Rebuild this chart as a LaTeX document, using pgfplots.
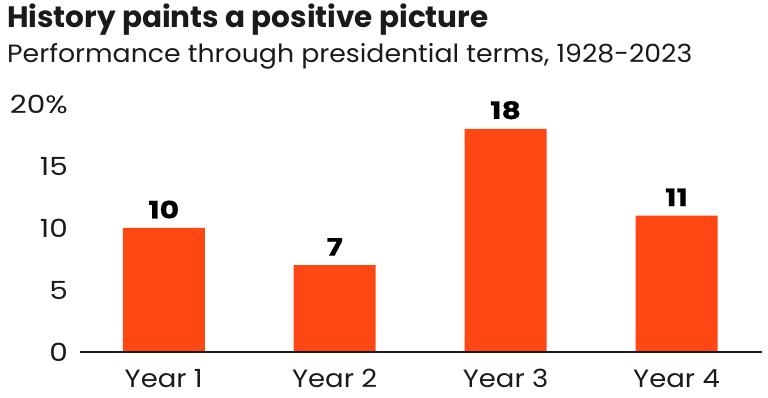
\documentclass[border=0pt]{standalone}
\usepackage{fontspec}
\setmainfont{Poppins}
\newfontfamily\titlefont{Poppins}
\newfontfamily\subfont{Poppins}[FakeStretch=1.07]
\newfontfamily\catfont{Poppins}[FakeStretch=1.10]
\newfontfamily\tickfont{Poppins}[FakeStretch=1.18]
\newfontfamily\lblfont{Poppins}[FakeStretch=1.25,FakeBold=0.6]
\usepackage{pgfplots}
\pgfplotsset{compat=1.18}
\definecolor{barorange}{HTML}{FF4713}
\definecolor{txt}{HTML}{1A1A1A}
\begin{document}
\begin{tikzpicture}[x=1pt,y=1pt]
\path (0,0) rectangle (768,398);
\node[anchor=base west,inner sep=0,text=txt] at (7,370) {\titlefont\fontsize{29.5}{32}\selectfont\bfseries History paints a positive picture};
\node[anchor=base west,inner sep=0,text=txt] at (7,335) {\subfont\fontsize{25}{28}\selectfont Performance through presidential terms, 1928-2023};
\begin{axis}[
  at={(80pt,46pt)}, anchor=south west,
  scale only axis, width=682pt, height=248pt,
  xmin=-0.49, xmax=3.5, ymin=0, ymax=20,
  axis lines=none,
  clip=false,
  ybar, bar width=82pt,
  ytick=\empty, xtick=\empty,
]
\addplot[fill=barorange, draw=none, bar shift=0pt,
  point meta=explicit symbolic,
  nodes near coords, every node near coord/.append style={font=\lblfont\fontsize{24}{28}\selectfont\bfseries, text=black, yshift=6pt}]
  coordinates {(0,10) [10] (1,7) [7] (2,18) [18] (3,11) [11]};
\draw[txt, line width=1.5pt] (axis cs:-0.49,0) -- (axis cs:3.5,0);
\foreach \v/\l in {0/0,5/5,10/10,15/15,20/20\%}{
  \edef\tmp{\noexpand\node[anchor=east,inner sep=0,text=txt,font=\noexpand\tickfont\noexpand\fontsize{25}{28}\noexpand\selectfont] at (axis cs:-0.49,\v) [xshift=-12pt] {\l};}
  \tmp
}
\foreach \i/\l in {0/Year 1,1/Year 2,2/Year 3,3/Year 4}{
  \edef\tmp{\noexpand\node[anchor=base,inner sep=0,text=txt,font=\noexpand\catfont\noexpand\fontsize{25}{28}\noexpand\selectfont] at (axis cs:\i,0) [yshift=-36pt] {\l};}
  \tmp
}
\end{axis}
\end{tikzpicture}
\end{document}
